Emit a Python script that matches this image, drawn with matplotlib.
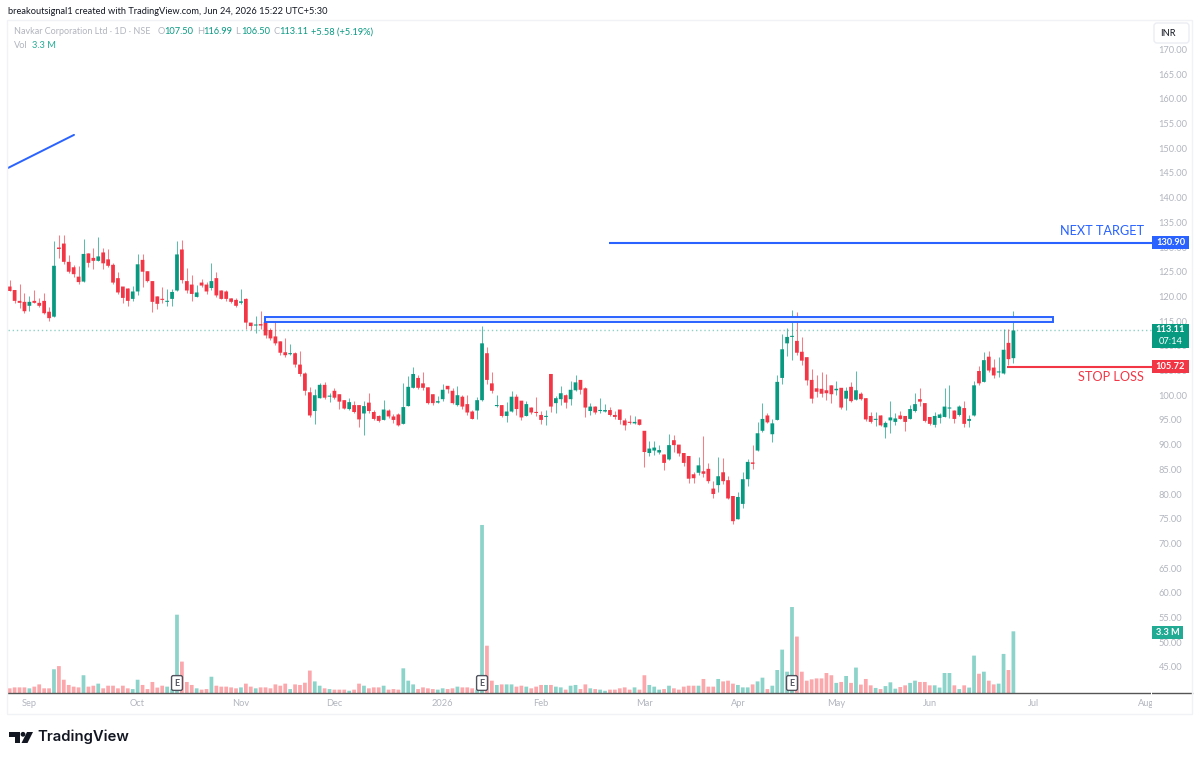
import matplotlib
matplotlib.use("Agg")
import matplotlib.pyplot as plt
from matplotlib.patches import FancyBboxPatch, Polygon, Rectangle
from matplotlib.transforms import Bbox

plt.rcParams["font.family"] = ["Lato", "DejaVu Sans"]

# daily candles, Navkar Corporation
opens = [
    122.0, 121.3, 119.1, 118.9, 118.1, 119.1, 118.7, 119.1, 116.9, 115.9,
    129.9, 130.7, 127.0, 125.9, 124.0, 123.0, 128.7, 127.8, 127.2, 128.9,
    127.5, 126.4, 123.7, 122.0, 121.6, 119.5, 121.0, 127.4, 125.1, 123.1,
    120.0, 119.5, 118.9, 119.5, 121.2, 129.5, 123.1, 122.4, 119.9, 122.8,
    122.4, 121.7, 123.7, 121.2, 121.0, 119.6, 119.3, 118.7, 119.5, 114.7,
    114.1, 114.4, 114.8, 113.2, 111.9, 110.9, 108.7, 108.3, 108.5, 106.2,
    104.4, 100.6, 96.8, 99.4, 102.1, 99.7, 100.9, 100.2, 99.0, 97.2,
    98.0, 98.0, 96.3, 98.5, 96.6, 95.8, 95.0, 96.9, 95.7, 96.1,
    94.2, 97.8, 101.5, 103.5, 102.4, 101.6, 100.2, 98.5, 99.2, 101.9,
    100.9, 98.0, 99.7, 98.2, 96.7, 96.9, 99.0, 108.5, 102.4, 97.8,
    98.0, 95.8, 96.7, 99.7, 98.9, 95.8, 97.5, 96.6, 96.0, 95.6,
    104.3, 98.4, 99.2, 100.0, 99.2, 101.0, 103.1, 101.4, 96.8, 97.7,
    96.8, 96.7, 97.0, 96.0, 97.1, 94.9, 94.6, 94.3, 95.1, 92.8,
    88.3, 88.8, 88.4, 88.0, 87.0, 90.9, 90.0, 88.3, 87.7, 84.0,
    84.3, 84.6, 85.1, 81.1, 81.8, 84.4, 82.8, 79.6, 74.9, 78.0,
    83.0, 86.4, 88.8, 92.8, 95.9, 92.1, 95.0, 103.5, 110.5, 111.8,
    111.0, 108.8, 107.7, 103.1, 101.4, 101.3, 101.0, 102.0, 101.0, 101.5,
    99.3, 101.7, 99.1, 100.3, 99.4, 95.8, 95.0, 95.9, 93.5, 94.9,
    94.6, 95.9, 95.8, 95.2, 96.8, 99.2, 98.4, 95.6, 94.0, 95.4,
    95.6, 97.3, 96.9, 96.0, 97.4, 94.8, 95.9, 104.9, 102.7, 107.8,
    105.6, 104.6, 104.4, 110.6, 107.5,
]
highs = [
    123.3, 121.3, 122.5, 120.6, 120.1, 121.3, 119.6, 120.6, 117.8, 131.2,
    132.4, 132.4, 128.4, 126.4, 126.2, 131.6, 128.7, 129.7, 132.0, 129.7,
    129.5, 126.7, 125.0, 122.0, 121.8, 122.1, 128.5, 128.5, 125.1, 123.1,
    120.0, 122.0, 121.5, 121.6, 131.2, 131.4, 125.7, 124.3, 122.3, 123.5,
    123.0, 126.7, 125.0, 121.2, 121.3, 119.6, 119.6, 121.5, 119.7, 114.7,
    116.0, 117.0, 114.8, 113.7, 114.8, 110.9, 111.5, 110.4, 108.8, 108.9,
    104.8, 101.6, 101.2, 102.4, 102.7, 100.5, 101.4, 100.2, 99.0, 99.4,
    98.8, 98.0, 98.8, 100.4, 97.1, 96.0, 99.0, 97.2, 96.2, 96.3,
    102.4, 103.8, 105.8, 104.0, 104.8, 101.6, 100.2, 99.8, 102.3, 101.9,
    101.4, 101.9, 100.0, 100.0, 97.0, 99.6, 114.0, 109.8, 104.6, 100.0,
    98.0, 98.7, 100.9, 100.2, 98.9, 98.9, 97.7, 99.6, 96.9, 97.0,
    104.3, 99.8, 101.9, 100.2, 102.9, 104.1, 103.1, 101.6, 98.5, 97.9,
    99.4, 98.2, 97.7, 96.8, 97.1, 95.3, 96.0, 95.8, 95.1, 92.8,
    90.7, 90.7, 90.0, 88.0, 92.1, 92.0, 90.0, 88.3, 87.7, 84.5,
    87.5, 91.7, 86.2, 82.6, 87.4, 87.2, 83.7, 79.6, 80.5, 84.4,
    87.1, 89.9, 94.6, 98.5, 96.5, 95.1, 104.0, 112.3, 113.7, 117.2,
    116.9, 111.8, 107.7, 105.4, 104.1, 104.8, 104.3, 102.0, 102.9, 101.5,
    101.6, 102.7, 104.9, 100.7, 99.4, 96.7, 96.7, 95.9, 94.8, 98.9,
    96.3, 96.9, 95.8, 98.0, 100.4, 101.4, 98.4, 95.6, 96.7, 96.5,
    101.5, 102.0, 97.1, 98.0, 98.9, 96.0, 102.9, 106.0, 108.8, 108.9,
    107.3, 107.8, 113.5, 113.4, 116.99,
]
lows = [
    121.1, 118.6, 117.6, 116.6, 117.1, 118.6, 117.9, 116.4, 115.1, 115.9,
    127.7, 126.6, 124.8, 123.9, 122.5, 123.0, 125.9, 125.5, 127.2, 125.6,
    126.0, 122.5, 120.5, 118.6, 118.1, 119.1, 120.3, 122.0, 123.0, 116.8,
    117.4, 118.6, 118.1, 118.1, 121.0, 122.7, 120.6, 119.1, 119.8, 122.0,
    120.5, 121.3, 119.8, 119.4, 119.1, 118.6, 117.9, 118.5, 113.4, 113.2,
    112.5, 113.4, 111.5, 111.2, 110.2, 108.1, 107.8, 108.1, 105.8, 103.9,
    100.0, 95.5, 94.2, 99.4, 99.2, 98.6, 99.2, 97.3, 97.2, 97.1,
    96.3, 93.5, 91.9, 96.3, 95.0, 94.6, 95.0, 95.3, 94.3, 93.8,
    94.1, 97.8, 101.4, 101.3, 101.0, 98.2, 98.0, 98.4, 98.9, 100.4,
    98.2, 97.9, 97.3, 96.0, 95.1, 95.2, 98.9, 102.2, 100.4, 97.7,
    95.5, 94.6, 96.7, 96.0, 95.0, 95.7, 96.1, 95.8, 94.2, 94.0,
    96.7, 96.5, 98.0, 97.5, 98.0, 100.9, 100.2, 95.5, 96.0, 96.2,
    96.5, 96.7, 95.8, 95.2, 94.2, 93.0, 94.2, 94.2, 94.0, 85.5,
    87.7, 87.9, 88.2, 84.9, 86.9, 88.6, 87.6, 85.7, 82.3, 82.2,
    83.8, 83.4, 82.2, 79.2, 80.5, 82.0, 78.9, 73.9, 74.9, 77.2,
    81.7, 85.1, 88.7, 92.6, 94.3, 90.6, 95.0, 102.2, 108.0, 107.1,
    108.1, 106.1, 102.1, 98.5, 99.7, 99.7, 99.0, 98.4, 100.0, 97.3,
    97.0, 98.7, 99.0, 99.0, 94.8, 94.4, 93.8, 93.8, 91.3, 92.4,
    94.0, 95.1, 92.8, 95.1, 96.7, 97.8, 94.6, 94.0, 93.5, 94.3,
    95.5, 95.3, 94.4, 95.8, 93.6, 93.5, 95.8, 102.1, 102.7, 104.8,
    103.5, 103.6, 104.3, 106.1, 106.5,
]
closes = [
    121.1, 119.1, 118.7, 117.0, 118.9, 118.7, 118.1, 116.6, 115.6, 126.2,
    129.6, 127.0, 125.0, 124.5, 122.9, 128.6, 126.8, 127.2, 128.1, 126.7,
    126.2, 122.8, 120.8, 119.7, 119.1, 121.0, 126.5, 125.0, 123.1, 118.9,
    118.5, 119.3, 119.1, 120.9, 128.5, 123.3, 121.2, 120.5, 120.8, 122.2,
    121.0, 123.1, 120.2, 119.5, 119.5, 118.9, 118.1, 119.0, 114.7, 114.0,
    114.3, 114.1, 112.1, 111.5, 110.5, 108.6, 108.1, 108.5, 106.2, 104.3,
    100.9, 95.9, 100.0, 102.1, 99.5, 99.9, 99.5, 98.7, 97.3, 98.6,
    96.6, 95.1, 97.8, 96.8, 95.2, 94.8, 97.1, 95.7, 95.0, 93.9,
    97.6, 101.7, 104.3, 101.5, 101.5, 98.4, 98.4, 98.8, 101.1, 101.2,
    98.4, 100.0, 97.7, 96.5, 95.2, 99.0, 110.5, 103.1, 100.9, 98.0,
    95.8, 96.7, 99.7, 97.2, 95.5, 98.2, 96.5, 96.4, 95.0, 95.8,
    97.7, 99.4, 100.4, 98.5, 101.1, 102.6, 101.1, 97.5, 97.7, 96.5,
    97.0, 97.0, 96.0, 95.6, 95.0, 93.9, 94.4, 94.6, 94.0, 88.5,
    89.2, 89.4, 88.9, 86.3, 89.9, 89.9, 88.2, 86.3, 83.1, 83.2,
    85.8, 84.1, 82.6, 80.0, 83.6, 82.6, 79.1, 74.5, 79.4, 83.0,
    86.5, 86.1, 92.3, 95.2, 94.5, 94.3, 102.7, 109.3, 111.8, 112.0,
    108.6, 107.0, 103.0, 99.3, 100.7, 100.3, 100.4, 100.2, 101.3, 97.5,
    100.9, 98.8, 101.0, 99.2, 95.1, 94.6, 95.2, 93.9, 94.4, 95.5,
    95.3, 95.2, 94.6, 97.2, 98.2, 98.7, 94.8, 94.2, 95.8, 96.1,
    97.7, 97.4, 95.2, 97.7, 94.2, 95.2, 102.0, 102.4, 107.1, 105.0,
    104.0, 104.8, 109.2, 107.3, 113.11,
]
# volume in millions of shares
volumes = [
    0.25, 0.30, 0.30, 0.30, 0.25, 0.34, 0.46, 0.25, 0.25, 1.27,
    1.44, 0.71, 0.43, 0.34, 0.30, 0.95, 0.34, 0.39, 0.50, 0.25,
    0.39, 0.39, 0.25, 0.39, 0.25, 0.21, 0.71, 0.43, 0.21, 0.59,
    0.29, 0.39, 0.34, 0.21, 4.19, 1.68, 0.59, 0.43, 0.25, 0.18,
    0.21, 0.87, 0.39, 0.34, 0.34, 0.30, 0.25, 0.30, 0.50, 0.34,
    0.25, 0.30, 0.30, 0.25, 0.46, 0.39, 0.50, 0.21, 0.46, 0.43,
    0.55, 1.20, 0.62, 0.39, 0.25, 0.21, 0.18, 0.18, 0.18, 0.12,
    0.18, 0.50, 0.39, 0.25, 0.30, 0.30, 0.39, 0.18, 0.21, 0.18,
    1.32, 0.66, 0.46, 0.21, 0.30, 0.25, 0.21, 0.18, 0.25, 0.21,
    0.25, 0.34, 0.30, 0.30, 0.25, 0.18, 8.99, 2.53, 0.66, 0.43,
    0.46, 0.46, 0.46, 0.34, 0.39, 0.34, 0.25, 0.34, 0.43, 0.43,
    0.43, 0.34, 0.30, 0.18, 0.39, 0.43, 0.21, 0.46, 0.25, 0.21,
    0.18, 0.12, 0.18, 0.18, 0.25, 0.30, 0.18, 0.30, 0.18, 0.95,
    0.43, 0.34, 0.18, 0.21, 0.39, 0.25, 0.18, 0.34, 0.39, 0.39,
    0.39, 0.75, 0.34, 0.34, 0.75, 0.62, 0.66, 0.50, 0.43, 0.30,
    0.30, 0.46, 0.62, 0.82, 0.21, 0.39, 1.23, 2.32, 1.14, 4.60,
    3.02, 1.14, 0.66, 0.73, 0.78, 0.78, 1.07, 0.95, 0.54, 0.59,
    0.91, 0.54, 1.36, 0.45, 0.75, 0.41, 0.27, 0.21, 0.37, 0.57,
    0.23, 0.32, 0.41, 0.54, 0.66, 0.59, 0.59, 0.41, 0.41, 0.29,
    1.07, 1.07, 0.41, 0.21, 0.41, 0.29, 2.00, 1.03, 1.14, 0.66,
    0.46, 0.50, 2.09, 1.23, 3.30,
]

month_bars = [4, 26, 47, 66, 88, 108, 129, 148, 168, 187, 208, 231]
month_labels = ["Sep", "Oct", "Nov", "Dec", "2026", "Feb", "Mar", "Apr", "May", "Jun", "Jul", "Aug"]
earnings_bars = [34, 96, 159]
price_ticks = list(range(45, 175, 5))

target_price = 130.90
stop_price = 105.72
last_price = 113.11
zone_top = 115.89
zone_bottom = 114.82
trend_x = [-0.35, 13.07]
trend_y = [146.0, 152.7]

UP = "#089981"
DOWN = "#F23645"
BLUE = "#2962FF"
GREY = "#B2B5BE"
SMALL = 6.7

n = len(opens)
assert n == len(highs) == len(lows) == len(closes) == len(volumes) == 205

fig = plt.figure(figsize=(12, 7.6), dpi=100, facecolor="white")

# pane runs 8..1192 px across, 22..693 px down
ax = fig.add_axes([8 / 1200, 1 - 693 / 760, 1184 / 1200, 671 / 760])
vol_ax = ax.twinx()
ax.set_zorder(vol_ax.get_zorder() + 1)
ax.patch.set_visible(False)

ax.set_xlim(-0.346, 240.3)
ax.set_ylim(39.72, 175.55)
vol_ax.set_ylim(0, 35.9)

bar_x = list(range(n))
vol_colors = ["#8CD3C9" if c >= o else "#FBA8AC" for o, c in zip(opens, closes)]
vol_bars = vol_ax.bar(bar_x, volumes, width=0.76, color=vol_colors, linewidth=0)
vol_ax.set_yticks([])
for r in vol_bars:
    r.set_snap(False)

colors = [UP if c >= o else DOWN for o, c in zip(opens, closes)]
ax.vlines(bar_x, lows, highs, colors=colors, linewidth=0.75, alpha=0.65, zorder=2)
bottoms = [min(o, c) for o, c in zip(opens, closes)]
heights = [max(abs(c - o), 0.22) for o, c in zip(opens, closes)]
candle_bars = ax.bar(bar_x, heights, bottom=bottoms, width=0.76, color=colors, linewidth=0, zorder=3)
for r in candle_bars:
    r.set_snap(False)

# levels drawn on the chart
ax.plot(trend_x, trend_y, color=BLUE, lw=1.4, solid_capstyle="round", zorder=4)
ax.hlines(target_price, 121.8, 232.1, color=BLUE, lw=1.5, zorder=4)
ax.hlines(stop_price, 202.7, 232.1, color=DOWN, lw=1.5, zorder=4)
ax.hlines(last_price, -0.35, 232.1, color=UP, lw=1, linestyles=(0, (1, 2)), alpha=0.45, zorder=1)
ax.add_patch(Rectangle((51.95, zone_bottom), 160.05, zone_top - zone_bottom, facecolor="#E9EFFF",
                       edgecolor=BLUE, lw=1.4, zorder=4))
ax.text(230.6, 133.2, "NEXT TARGET", color=BLUE, fontsize=9.2, ha="right", va="center", zorder=5)
ax.text(230.6, 103.6, "STOP LOSS", color=DOWN, fontsize=9.2, ha="right", va="center", zorder=5)

# axes
for side in ["top", "left", "right"]:
    ax.spines[side].set_visible(False)
    vol_ax.spines[side].set_visible(False)
ax.spines["bottom"].set_color("#555555")
ax.spines["bottom"].set_linewidth(1)
vol_ax.spines["bottom"].set_visible(False)

ax.set_yticks(price_ticks)
ax.set_yticklabels([f"{p:.2f}" for p in price_ticks])
ax.yaxis.tick_right()
ax.tick_params(axis="y", length=0, pad=-24, labelsize=SMALL, labelcolor=GREY)
for lab in ax.get_yticklabels():
    lab.set_ha("left")

ax.set_xticks(month_bars)
ax.set_xticklabels(month_labels)
ax.tick_params(axis="x", length=0, pad=4.5, labelsize=SMALL, labelcolor=GREY)
# the price scale cuts the last month label
clip = Bbox([[0, 0], [1152, 760]])
for lab in ax.get_xticklabels():
    lab.set_clip_box(clip)
    lab.set_clip_on(True)

for b in earnings_bars:
    ax.text(b, 0.0149, "E", transform=ax.get_xaxis_transform(), fontsize=6.5, fontweight="bold",
            color="#50535E", ha="center", va="center", zorder=6,
            bbox=dict(boxstyle="round,pad=0.32,rounding_size=0.2", fc="white", ec="#50535E", lw=1))

# chrome around the pane, in pixels
page = fig.add_axes([0, 0, 1, 1], zorder=10)
page.set_xlim(0, 1200)
page.set_ylim(760, 0)
page.axis("off")
page.patch.set_visible(False)
page.add_patch(Rectangle((7, 19.5), 1185, 694.5, fill=False, ec="#F0F2F6", lw=1))
page.add_patch(Rectangle((1150.8, 691), 1.4, 4, fc="white", ec="none"))


def price_y(p):
    return 247 + (130 - p) * 4.94


def axis_tag(y0, y1, color, lines, x1=1189):
    page.add_patch(Rectangle((1152, y0), x1 - 1152, y1 - y0, fc=color, ec="none"))
    step = (y1 - y0) / len(lines)
    for k, line in enumerate(lines):
        page.text((1152 + x1) / 2, y0 + step * (k + 0.5), line, color="white", fontsize=SMALL,
                  fontweight="bold" if k == 0 else "normal", ha="center", va="center")


axis_tag(price_y(target_price) - 6.5, price_y(target_price) + 6.5, BLUE, ["130.90"])
axis_tag(324, 348, UP, ["113.11", "07:14"])
axis_tag(price_y(stop_price) - 6.5, price_y(stop_price) + 6.5, DOWN, ["105.72"])
axis_tag(626, 639, "#22AB94", ["3.3 M"], x1=1183)

page.text(8, 11, "breakoutsignal1 created with TradingView.com, Jun 24, 2026 15:22 UTC+5:30",
          fontsize=6.65, color="#131722", va="center")
page.text(14, 32, "Navkar Corporation Ltd · 1D · NSE", fontsize=6.5, color=GREY, va="center")
header = [(158, "O", GREY), (164.5, "107.50", UP), (197, "H", GREY), (203, "116.99", UP),
          (235, "L", GREY), (241, "106.50", UP), (273, "C", GREY), (279, "113.11", UP),
          (311, "+5.58 (+5.19%)", UP)]
for hx, s, col in header:
    page.text(hx, 32, s, fontsize=SMALL, color=col, va="center")
page.text(14, 45, "Vol", fontsize=SMALL, color=GREY, va="center")
page.text(32, 45, "3.3 M", fontsize=SMALL, color="#22AB94", va="center")

page.add_patch(FancyBboxPatch((1154, 23), 35, 20, boxstyle="round,pad=0,rounding_size=3",
                              fc="white", ec="#EBEDF2", lw=1))
page.text(1168, 34, "INR", fontsize=6.7, color="#131722", ha="center", va="center")

# logo
page.add_patch(Polygon([(9, 732), (20, 732), (20, 743), (14.5, 743), (14.5, 737), (9, 737)], fc="#131722"))
page.add_patch(plt.Circle((23, 734.3), 2.4, fc="#131722"))
page.add_patch(Polygon([(27, 732), (33, 732), (27.5, 743), (21.5, 743)], fc="#131722"))
page.text(37.5, 737, "TradingView", family=["Inter", "DejaVu Sans"], fontsize=10.7, fontweight="semibold",
          color="#131722", va="center")

fig.savefig("out.png", dpi=100, facecolor="white")
